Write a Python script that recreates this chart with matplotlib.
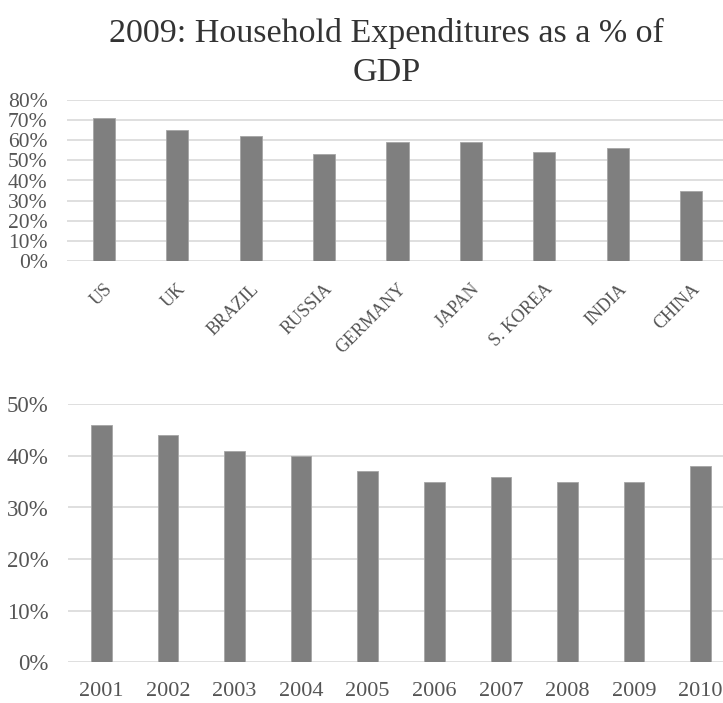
import matplotlib
matplotlib.use("Agg")
import matplotlib.pyplot as plt
from matplotlib.ticker import PercentFormatter

countries = ["US", "UK", "BRAZIL", "RUSSIA", "GERMANY", "JAPAN", "S. KOREA", "INDIA", "CHINA"]
country_share = [71, 65, 62, 53, 59, 59, 54, 56, 35]

years = ["2001", "2002", "2003", "2004", "2005", "2006", "2007", "2008", "2009", "2010"]
china_share = [46, 44, 41, 40, 37, 35, 36, 35, 35, 38]

title = "2009: Household Expenditures as a % of\nGDP"

plt.rcParams['font.family'] = ['Liberation Serif', 'DejaVu Serif']

BAR = "#7f7f7f"
GRID = "#d9d9d9"
TXT = "#555555"

W, H = 723, 703
fig = plt.figure(figsize=(W / 100, H / 100), dpi=100)

fig.text(0.535, 1 - 53 / H, title, ha="center", va="center", fontsize=24.5,
         color="#333333", linespacing=1.35)

# Top chart
ax1 = fig.add_axes([67 / W, 1 - 261 / H, 661 / W, 161 / H])
x1 = range(len(countries))
ax1.bar(x1, country_share, width=0.3, color=BAR, edgecolor="#a6a6a6", linewidth=0.6, zorder=3)
ax1.set_ylim(0, 80)
ax1.set_xlim(-0.5, len(countries) - 0.5)
ax1.set_yticks(range(0, 81, 10))
ax1.yaxis.set_major_formatter(PercentFormatter(decimals=0))
ax1.grid(axis="y", color=GRID, linewidth=1.2, zorder=0)
ax1.set_xticks(list(x1))
ax1.set_xticklabels(countries, rotation=45, ha="right", rotation_mode="anchor",
                    fontsize=13, color=TXT)
ax1.tick_params(axis="x", length=0, pad=14)
ax1.tick_params(axis="y", length=0, pad=14, labelsize=15.5, labelcolor=TXT)
for s in ax1.spines.values():
    s.set_visible(False)

# Bottom chart
ax2 = fig.add_axes([68 / W, 1 - 662.3 / H, 666 / W, 258 / H])
x2 = range(len(years))
ax2.bar(x2, china_share, width=0.31, color=BAR, edgecolor="#a6a6a6", linewidth=0.6, zorder=3)
ax2.set_ylim(0, 50)
ax2.set_xlim(-0.5, len(years) - 0.5)
ax2.set_yticks(range(0, 51, 10))
ax2.yaxis.set_major_formatter(PercentFormatter(decimals=0))
ax2.grid(axis="y", color=GRID, linewidth=1.2, zorder=0)
ax2.set_xticks(list(x2))
ax2.set_xticklabels(years, fontsize=16, color=TXT)
ax2.tick_params(axis="x", length=0, pad=14)
ax2.tick_params(axis="y", length=0, pad=14, labelsize=16.5, labelcolor=TXT)
for s in ax2.spines.values():
    s.set_visible(False)

fig.savefig("out.png", dpi=100)
